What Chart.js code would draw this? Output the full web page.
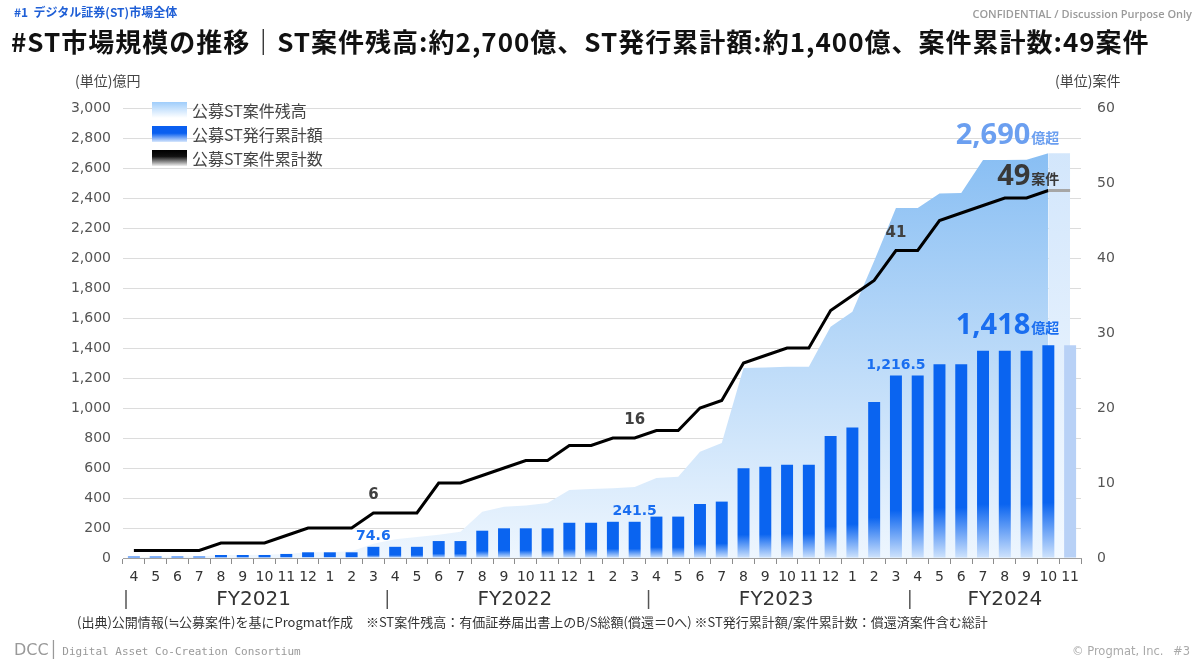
<!DOCTYPE html>
<html>
<head>
<meta charset="utf-8">
<script src="https://cdn.jsdelivr.net/npm/chart.js@4.4.1/dist/chart.umd.min.js"></script>
<style>
  html, body { margin: 0; padding: 0; background: #fff; }
  body { width: 1200px; height: 672px; position: relative; overflow: hidden;
         font-family: "Noto Sans CJK JP", "DejaVu Sans", sans-serif; color: #333; }
  #chart-wrap { position: absolute; left: 0; top: 0; width: 1200px; height: 672px; }
  .abs { position: absolute; white-space: nowrap; }
  #sub { left: 14px; top: 3px; font-size: 12px; font-weight: bold; color: #1f5fd6; }
  #conf { right: 8px; top: 6px; font-family: "Open Sans", sans-serif; font-size: 11px; font-weight: 600; color: #9a9a9a; }
  #title { left: 11px; top: 22px; font-size: 26px; font-weight: bold; color: #111; letter-spacing: 1px; }
  .unit { top: 70px; font-size: 14px; color: #444; }
  #legend { left: 152px; top: 98px; }
  .lg-row { display: flex; align-items: center; height: 24px; }
  .lg-sw { width: 35px; height: 16px; margin-right: 5px; }
  .lg-tx { font-size: 16px; color: #444; }
  #note { left: 77px; top: 612px; font-size: 13px; color: #333; }
  #dcc { left: 14px; top: 640px; font-size: 16px; color: #999; font-family: "DejaVu Sans", sans-serif; }
  #dcc span { font-family: "DejaVu Sans Mono", monospace; font-size: 11px; margin-left: 4px; }
  #copy { left: 1072px; top: 644px; font-size: 11.5px; color: #aaa; font-family: "DejaVu Sans", sans-serif; }
  #page { left: 1173px; top: 644px; font-size: 11.5px; color: #aaa; font-family: "DejaVu Sans", sans-serif; }
</style>
</head>
<body>
<div id="chart-wrap"><canvas id="chart"></canvas></div>

<div class="abs" id="sub">#1&nbsp; デジタル証券(ST)市場全体</div>
<div class="abs" id="conf">CONFIDENTIAL / Discussion Purpose Only</div>
<div class="abs" id="title">#ST市場規模の推移｜ST案件残高:約2,700億、ST発行累計額:約1,400億、案件累計数:49案件</div>
<div class="abs unit" style="left:75px">(単位)億円</div>
<div class="abs unit" style="left:1055px">(単位)案件</div>

<div class="abs" id="legend">
  <div class="lg-row"><div class="lg-sw" style="background:linear-gradient(#9fcdfb,#ffffff)"></div><div class="lg-tx">公募ST案件残高</div></div>
  <div class="lg-row"><div class="lg-sw" style="background:linear-gradient(#0a5ff0 0%,#0a5ff0 45%,#d8e8fd)"></div><div class="lg-tx">公募ST発行累計額</div></div>
  <div class="lg-row"><div class="lg-sw" style="background:linear-gradient(#000 0%,#111 40%,#f0f0f0)"></div><div class="lg-tx">公募ST案件累計数</div></div>
</div>

<div class="abs" id="note">(出典)公開情報(≒公募案件)を基にProgmat作成　※ST案件残高：有価証券届出書上のB/S総額(償還＝0へ) ※ST発行累計額/案件累計数：償還済案件含む総計</div>
<div class="abs" id="dcc">DCC│<span>Digital Asset Co-Creation Consortium</span></div>
<div class="abs" id="copy">© Progmat, Inc.</div>
<div class="abs" id="page">#3</div>

<script>
// Months (FY2021/4 .. FY2024/11)
const months = [
    '4','5','6','7','8','9','10','11','12','1','2','3',
    '4','5','6','7','8','9','10','11','12','1','2','3',
    '4','5','6','7','8','9','10','11','12','1','2','3',
    '4','5','6','7','8','9','10','11'
];
const fiscalYears = ['FY2021', 'FY2022', 'FY2023', 'FY2024'];
const fiscalStart = [0, 12, 24, 36];
const fiscalSpan = [12, 12, 12, 9];

// 公募ST案件残高 (億円)
const balance = [
    5, 8, 10, 10, 20, 20, 22, 27, 38, 38, 45, 95,
    125, 140, 155, 175, 309, 342, 350, 367, 453, 460, 465, 473,
    533, 542, 709, 767, 1267, 1270, 1275, 1275, 1542, 1642, 1980, 2333,
    2333, 2430, 2433, 2653, 2653, 2655, 2698, null
];
// last month (lighter, preliminary)
const balanceLatest = [
    null, null, null, null, null, null, null, null, null, null, null, null,
    null, null, null, null, null, null, null, null, null, null, null, null,
    null, null, null, null, null, null, null, null, null, null, null, null,
    null, null, null, null, null, null, 2698, 2698
];

// 公募ST発行累計額 (億円)
const issuedCum = [
    10, 10, 10, 10, 20, 20, 20, 27, 38, 38, 38, 74.6,
    74.6, 74.6, 113, 113, 182, 198, 198, 198, 235, 235, 241.5, 241.5,
    276, 276, 360, 376, 598, 609, 622, 622, 813, 870, 1040, 1216.5,
    1216.5, 1291, 1291, 1382, 1382, 1382, 1418, 1418
];

// 公募ST案件累計数 (件)
const casesCum = [
    1, 1, 1, 1, 2, 2, 2, 3, 4, 4, 4, 6,
    6, 6, 10, 10, 11, 12, 13, 13, 15, 15, 16, 16,
    17, 17, 20, 21, 26, 27, 28, 28, 33, 35, 37, 41,
    41, 45, 46, 47, 48, 48, 49, 49
];

// Labelled points
const caseLabelIdx = [11, 23, 35];
const barLabelIdx = [11, 23, 35];
const latestIdx = 42;
const callouts = [
    { text: '2,690', unit: '億超', color: '#6b9ff0', series: 'balance', value: 2698, gap: 10 },
    { text: '49', unit: '案件', color: '#383838', series: 'cases', value: 49, gap: 7 },
    { text: '1,418', unit: '億超', color: '#1a6ef0', series: 'issued', value: 1418, gap: 12 }
];

const leftTicks = { min: 0, max: 3000, step: 200 };
const rightTicks = { min: 0, max: 60, step: 10 };

const baseFont = '"DejaVu Sans", "Noto Sans CJK JP", sans-serif';

function areaGradient(context, top, bottom) {
    const { ctx, chartArea } = context.chart;
    if (!chartArea) return top;
    const g = ctx.createLinearGradient(0, chartArea.top, 0, chartArea.bottom);
    g.addColorStop(0, top);
    g.addColorStop(1, bottom);
    return g;
}

// each bar fades out over its lower part
function barGradient(context) {
    const chart = context.chart;
    if (!chart.chartArea || context.type !== 'data') return '#0a64f0';
    const yScale = chart.scales.y;
    const top = yScale.getPixelForValue(context.raw);
    const bottom = yScale.getPixelForValue(0);
    if (bottom - top < 1) return '#0a64f0';
    const g = chart.ctx.createLinearGradient(0, top, 0, bottom);
    g.addColorStop(0, '#0a64f0');
    g.addColorStop(0.74, '#0a64f0');
    g.addColorStop(1, '#cfe3fc');
    return g;
}

// Annotations, FY labels
const annotatePlugin = {
    id: 'annotate',
    afterDatasetsDraw(chart) {
        const { ctx } = chart;
        const x = chart.scales.x, y = chart.scales.y, y1 = chart.scales.y1;
        ctx.save();

        // line labels
        ctx.font = 'bold 15px ' + baseFont;
        ctx.fillStyle = '#404040';
        ctx.textAlign = 'center';
        ctx.textBaseline = 'bottom';
        caseLabelIdx.forEach(i => {
            ctx.fillText(String(casesCum[i]), x.getPixelForValue(i), y1.getPixelForValue(casesCum[i]) - 10);
        });

        // bar labels
        ctx.font = 'bold 14px ' + baseFont;
        ctx.fillStyle = '#1a6ef0';
        barLabelIdx.forEach(i => {
            const v = issuedCum[i];
            ctx.fillText(v.toLocaleString('en-US', { maximumFractionDigits: 1 }), x.getPixelForValue(i), y.getPixelForValue(v) - 3);
        });

        // big callouts
        const right = x.getPixelForValue(latestIdx) + 11;
        callouts.forEach(c => {
            const py = c.series === 'cases' ? y1.getPixelForValue(c.value) : y.getPixelForValue(c.value);
            const base = py - c.gap;
            ctx.textAlign = 'right';
            ctx.textBaseline = 'alphabetic';
            ctx.fillStyle = c.color;
            ctx.font = 'bold 14px "Noto Sans CJK JP", sans-serif';
            ctx.fillText(c.unit, right, base);
            const uw = ctx.measureText(c.unit).width;
            ctx.font = 'bold 29px "Open Sans", sans-serif';
            ctx.fillText(c.text, right - uw - 1, base + 1);
        });
        ctx.restore();
    },
    afterDraw(chart) {
        const { ctx } = chart;
        const x = chart.scales.x;
        const cw = x.getPixelForValue(1) - x.getPixelForValue(0);
        ctx.save();
        ctx.strokeStyle = '#555';
        ctx.lineWidth = 1.5;
        ctx.fillStyle = '#333';
        ctx.font = '20px ' + baseFont;
        ctx.textAlign = 'center';
        ctx.textBaseline = 'middle';
        fiscalYears.forEach((fy, k) => {
            const left = x.getPixelForValue(fiscalStart[k]) - cw / 2;
            ctx.beginPath();
            ctx.moveTo(left + 3, 590);
            ctx.lineTo(left + 3, 609);
            ctx.stroke();
            ctx.fillText(fy, left + fiscalSpan[k] * cw / 2, 600);
        });
        ctx.restore();
    }
};

document.addEventListener('DOMContentLoaded', function() {
    const ctx = document.getElementById('chart').getContext('2d');
    Chart.defaults.font.family = baseFont;
    Chart.defaults.color = '#444';

    new Chart(ctx, {
        type: 'bar',
        data: {
            labels: months,
            datasets: [
                {
                    type: 'line',
                    label: '公募ST案件累計数',
                    data: casesCum,
                    yAxisID: 'y1',
                    borderColor: '#000',
                    borderWidth: 3,
                    pointRadius: 0,
                    tension: 0,
                    fill: false,
                    order: 0,
                    segment: {
                        borderColor: c => c.p0DataIndex >= latestIdx ? '#a6a6a6' : '#000'
                    }
                },
                {
                    type: 'bar',
                    label: '公募ST発行累計額',
                    data: issuedCum,
                    yAxisID: 'y',
                    backgroundColor: c => c.dataIndex === months.length - 1 ? '#b8d1f6' : barGradient(c),
                    barPercentage: 0.55,
                    categoryPercentage: 1.0,
                    order: 1
                },
                {
                    type: 'line',
                    label: '公募ST案件残高',
                    data: balance,
                    yAxisID: 'y',
                    borderWidth: 0,
                    pointRadius: 0,
                    tension: 0,
                    fill: 'origin',
                    backgroundColor: c => areaGradient(c, '#7db8f2', '#eef6fe'),
                    order: 2
                },
                {
                    type: 'line',
                    label: '公募ST案件残高(最新)',
                    data: balanceLatest,
                    yAxisID: 'y',
                    borderWidth: 0,
                    pointRadius: 0,
                    tension: 0,
                    fill: 'origin',
                    backgroundColor: c => areaGradient(c, '#cfe4fb', '#f3f9ff'),
                    order: 3
                }
            ]
        },
        options: {
            responsive: true,
            maintainAspectRatio: false,
            animation: false,
            layout: { padding: { left: 63, right: 59, top: 108, bottom: 84 } },
            plugins: {
                legend: { display: false },
                tooltip: { enabled: false }
            },
            scales: {
                x: {
                    grid: { display: true, drawOnChartArea: false, offset: true, tickLength: 6, color: '#8c8c8c' },
                    border: { display: true, color: '#a0a0a0' },
                    ticks: { autoSkip: false, maxRotation: 0, padding: 5, color: '#333', font: { size: 14 } },
                    afterFit: s => { s.height = 30; }
                },
                y: {
                    position: 'left',
                    min: leftTicks.min,
                    max: leftTicks.max,
                    ticks: {
                        stepSize: leftTicks.step,
                        padding: 12,
                        color: '#555',
                        font: { size: 14 },
                        callback: v => v.toLocaleString('en-US')
                    },
                    grid: { color: '#dcdcdc', drawTicks: false },
                    border: { display: false },
                    afterFit: s => { s.width = 60; }
                },
                y1: {
                    position: 'right',
                    min: rightTicks.min,
                    max: rightTicks.max,
                    ticks: { stepSize: rightTicks.step, padding: 16, color: '#555', font: { size: 14 } },
                    grid: { display: false, drawTicks: false },
                    border: { display: false },
                    afterFit: s => { s.width = 60; }
                }
            }
        },
        plugins: [annotatePlugin]
    });
});
</script>
</body>
</html>
